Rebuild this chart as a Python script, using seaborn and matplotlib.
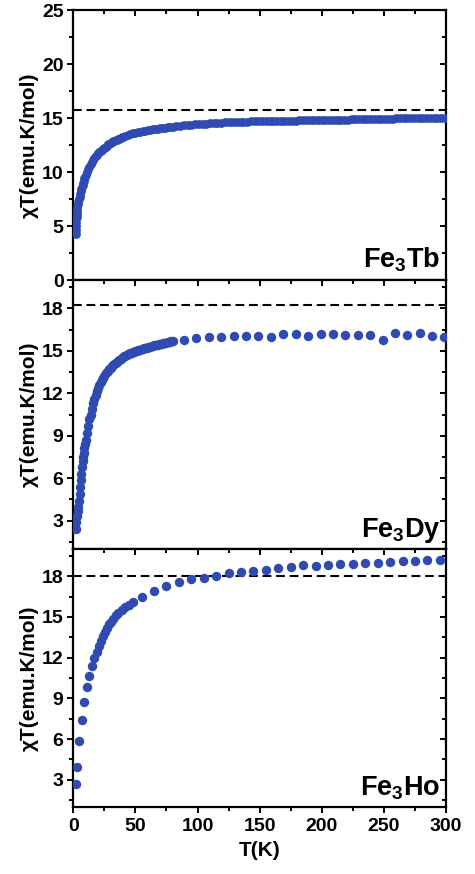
import matplotlib
matplotlib.use("Agg")
import matplotlib.pyplot as plt
from matplotlib.ticker import MultipleLocator
import matplotlib.lines as mlines
import seaborn as sns
import pandas as pd

# --- data: chi*T vs temperature for the three Fe3Ln complexes ---
tb_T = [1.8, 2.0, 2.2, 2.4, 2.6, 2.8, 3.0, 3.3, 3.6, 4.0, 4.5, 5.0, 5.5, 6.0, 6.5,
        7.0, 7.5, 8.0, 8.5, 9.0, 9.5, 10, 11, 12, 13, 14, 15, 16, 17, 18, 19, 20,
        21, 22, 23, 24, 25, 26, 27, 28, 29, 30, 31, 32, 33, 34, 35, 36, 37, 38, 39,
        40, 42, 44, 46, 48, 50, 52, 54, 56, 58, 60, 62, 64, 66, 68, 70, 72, 74, 76,
        78, 80, 83, 86, 89, 92, 95, 98, 101, 104, 107, 110, 113, 116, 119, 122, 125,
        128, 131, 134, 137, 140, 143, 146, 149, 152, 155, 158, 161, 164, 167, 170,
        173, 176, 179, 182, 185, 188, 191, 194, 197, 200, 203, 206, 209, 212, 215,
        218, 221, 224, 227, 230, 233, 236, 239, 242, 245, 248, 251, 254, 257, 260,
        263, 266, 269, 272, 275, 278, 281, 284, 287, 290, 293, 296, 299]
tb_chiT = [4.3, 4.6, 5.0, 5.4, 5.8, 6.1, 6.4, 6.7, 7.0, 7.2, 7.5, 7.7, 8.0, 8.2, 8.4,
           8.6, 8.8, 9.0, 9.2, 9.4, 9.55, 9.7, 10.0, 10.3, 10.5, 10.75, 10.95, 11.15,
           11.3, 11.45, 11.6, 11.75, 11.85, 11.95, 12.05, 12.15, 12.25, 12.35, 12.45,
           12.55, 12.6, 12.7, 12.75, 12.85, 12.9, 12.95, 13.0, 13.05, 13.1, 13.15,
           13.2, 13.25, 13.35, 13.42, 13.5, 13.57, 13.63, 13.68, 13.73, 13.78, 13.83,
           13.87, 13.9, 13.94, 13.98, 14.02, 14.05, 14.08, 14.11, 14.14, 14.17, 14.2,
           14.24, 14.28, 14.31, 14.34, 14.37, 14.4, 14.43, 14.46, 14.48, 14.5, 14.52,
           14.55, 14.57, 14.59, 14.6, 14.62, 14.63, 14.65, 14.66, 14.67, 14.68, 14.69,
           14.7, 14.7, 14.71, 14.72, 14.73, 14.73, 14.74, 14.75, 14.75, 14.76, 14.76,
           14.77, 14.78, 14.78, 14.79, 14.8, 14.8, 14.81, 14.82, 14.82, 14.83, 14.84,
           14.85, 14.85, 14.86, 14.87, 14.88, 14.88, 14.89, 14.9, 14.9, 14.91, 14.92,
           14.93, 14.93, 14.94, 14.95, 14.96, 14.96, 14.97, 14.97, 14.98, 14.98,
           14.99, 14.99, 15.0, 15.0, 15.01, 15.01, 15.02, 15.02]

dy_T = [2, 2.5, 3, 3.5, 4, 4.5, 5, 5.5, 6, 6.5, 7, 7.5, 8, 8.5, 9, 9.5, 10, 11, 12,
        13, 14, 15, 16, 17, 18, 19, 20, 21, 22, 23, 24, 25, 26, 27, 28, 29, 30, 31,
        32, 33, 34, 35, 36, 37, 38, 39, 40, 41, 42, 43, 44, 45, 46, 47, 48, 49, 50,
        51, 52, 53, 54, 55, 56, 57, 58, 59, 60, 61, 62, 63, 64, 65, 66, 67, 68, 69,
        70, 71, 72, 73, 74, 75, 76, 77, 78, 79, 80,
        89, 99, 109, 119, 129, 139, 149, 159, 169, 179, 189, 199, 209, 219, 229,
        239, 249, 259, 269, 279, 289, 298]
dy_chiT = [2.4, 2.9, 3.3, 3.7, 4.0, 4.4, 4.9, 5.4, 5.9, 6.3, 6.8, 7.2, 7.5, 7.8, 8.1,
           8.4, 8.7, 9.2, 9.7, 10.15, 10.5, 10.9, 11.3, 11.6, 11.9, 12.15, 12.4, 12.6,
           12.8, 12.95, 13.1, 13.25, 13.4, 13.5, 13.6, 13.7, 13.8, 13.9, 14.0, 14.07,
           14.15, 14.22, 14.3, 14.36, 14.43, 14.5, 14.55, 14.6, 14.65, 14.7, 14.75,
           14.78, 14.82, 14.86, 14.9, 14.93, 14.97, 15.0, 15.03, 15.06, 15.09, 15.12,
           15.15, 15.18, 15.2, 15.23, 15.26, 15.28, 15.3, 15.33, 15.35, 15.38, 15.4,
           15.42, 15.44, 15.46, 15.48, 15.5, 15.52, 15.54, 15.56, 15.58, 15.6, 15.62,
           15.64, 15.66, 15.68,
           15.75, 15.92, 16.0, 15.94, 16.06, 16.06, 16.06, 16.0, 16.18, 16.18, 16.06,
           16.18, 16.18, 16.1, 16.1, 16.1, 15.78, 16.25, 16.1, 16.25, 16.06, 16.0]

ho_T = [2.1, 3.2, 4.8, 6.7, 8.9, 10.7, 12.9, 15.0, 16.9, 18.8, 20.4, 22.0, 23.6,
        25.2, 26.8, 28.4, 30.0, 32.2, 34.3, 36.2, 38.9, 41.6, 45.1, 48.3,
        55, 65, 75, 85, 95, 105, 115, 125, 135, 145, 155, 165, 175, 185, 195, 205,
        215, 225, 235, 245, 255, 265, 275, 285, 295]
ho_chiT = [2.68, 3.95, 5.85, 7.44, 8.76, 9.83, 10.66, 11.39, 11.95, 12.44, 12.85,
           13.24, 13.59, 13.9, 14.17, 14.44, 14.66, 14.88, 15.12, 15.29, 15.49, 15.73,
           15.9, 16.1, 16.46, 16.9, 17.24, 17.54, 17.76, 17.88, 18.02, 18.2, 18.32,
           18.41, 18.49, 18.6, 18.66, 18.85, 18.78, 18.83, 18.88, 18.93, 18.98, 19.0,
           19.07, 19.1, 19.15, 19.17, 19.22]

# expected uncoupled chi*T values (dashed reference lines)
tb_ref = 15.74
dy_ref = 18.2
ho_ref = 18.0

labels = ["Fe$_{\\mathbf{3}}$Tb", "Fe$_{\\mathbf{3}}$Dy", "Fe$_{\\mathbf{3}}$Ho"]

sns.set_theme(style="ticks")
plt.rcParams["font.family"] = ["Liberation Sans", "DejaVu Sans"]
plt.rcParams["font.weight"] = "bold"
plt.rcParams["axes.labelweight"] = "bold"
plt.rcParams["mathtext.fontset"] = "custom"
plt.rcParams["mathtext.bf"] = "Liberation Sans:bold"
plt.rcParams["mathtext.rm"] = "Liberation Sans:bold"
for key in ["text.color", "axes.labelcolor", "xtick.color", "ytick.color",
            "xtick.labelcolor", "ytick.labelcolor", "axes.edgecolor"]:
    plt.rcParams[key] = "black"

blue = "#2f4bb2"
W, H = 475, 874
fig = plt.figure(figsize=(W / 100, H / 100), dpi=100)

left, right = 73.3 / W, 446 / W
edges = [10, 280, 549, 807]  # panel boundaries in pixels from the top
axes = []
for i in range(3):
    top_px, bot_px = edges[i], edges[i + 1]
    ax = fig.add_axes([left, 1 - bot_px / H, right - left, (bot_px - top_px) / H])
    axes.append(ax)

series = [
    (tb_T, tb_chiT, tb_ref, (0, 25), 5, 2.5, 40),
    (dy_T, dy_chiT, dy_ref, (1, 20), 3, 1.5, 46),
    (ho_T, ho_chiT, ho_ref, (1, 20), 3, 1.5, 46),
]

for ax, (T, chiT, ref, ylim, major, minor, size), lab in zip(axes, series, labels):
    df = pd.DataFrame({"T": T, "chiT": chiT})
    sns.scatterplot(data=df, x="T", y="chiT", ax=ax, color=blue, s=size,
                    linewidth=0, marker="o", zorder=3, clip_on=True)
    ax.axhline(ref, color="black", lw=1.5, ls=(0, (4.2, 2.3)), zorder=2)
    ax.set_xlim(0, 300)
    ax.set_ylim(*ylim)
    ax.xaxis.set_major_locator(MultipleLocator(50))
    ax.xaxis.set_minor_locator(MultipleLocator(25))
    if ylim[0] == 0:
        ax.yaxis.set_major_locator(MultipleLocator(major))
    else:
        ax.set_yticks([v for v in range(3, 19, 3)])
    ax.yaxis.set_minor_locator(MultipleLocator(minor))
    for sp in ax.spines.values():
        sp.set_linewidth(1.6)
        sp.set_color("black")
        sp.set_visible(True)
    ax.tick_params(which="both", width=1.4, colors="black", labelsize=14)
    ax.tick_params(axis="y", which="both", left=True, right=True)
    ax.tick_params(axis="x", which="both", bottom=True, top=True)
    ax.tick_params(axis="y", which="major", length=4.5, pad=2.5)
    ax.tick_params(axis="y", which="minor", length=3)
    ax.tick_params(axis="x", which="major", length=4, pad=4)
    ax.tick_params(axis="x", which="minor", length=3)
    # left/bottom ticks point outward, top/right ticks point inward
    for t in ax.yaxis.get_major_ticks() + ax.yaxis.get_minor_ticks():
        t.tick1line.set_marker(mlines.TICKLEFT)
        t.tick2line.set_marker(mlines.TICKLEFT)
    for t in ax.xaxis.get_major_ticks() + ax.xaxis.get_minor_ticks():
        t.tick1line.set_marker(mlines.TICKDOWN)
        t.tick2line.set_marker(mlines.TICKDOWN)
    ax.set_ylabel("χT(emu.K/mol)", fontsize=15, labelpad=2)
    ax.set_xlabel("")
    ax.text(0.985, 0.045, lab, transform=ax.transAxes, ha="right", va="baseline",
            fontsize=19.5, fontweight="bold", color="black")
    for lbl in ax.get_yticklabels() + ax.get_xticklabels():
        lbl.set_fontweight("bold")

for ax in axes[:2]:
    ax.tick_params(axis="x", labelbottom=False)
axes[2].set_xlabel("T(K)", fontsize=15, labelpad=4)

fig.savefig("out.png", dpi=100)
